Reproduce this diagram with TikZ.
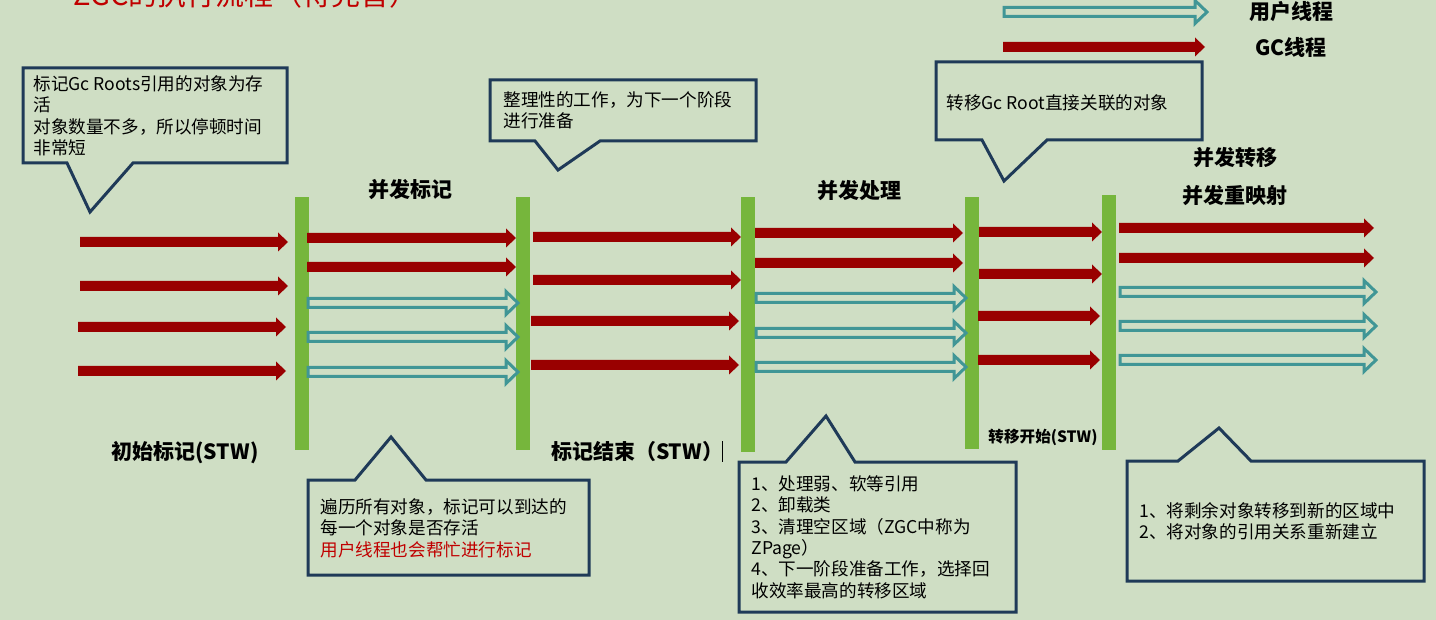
\documentclass[tikz,border=0pt]{standalone}
\usepackage{fontspec}
\setmainfont{Noto Sans CJK SC}
\usepackage{tikz}

\definecolor{bgcolor}{RGB}{207,222,196}
\definecolor{bargreen}{RGB}{118,182,60}
\definecolor{gcred}{RGB}{153,0,0}
\definecolor{userteal}{RGB}{64,150,150}
\definecolor{calloutblue}{RGB}{31,58,88}
\definecolor{tipred}{RGB}{192,0,0}

\tikzset{
  bar/.style={fill=bargreen},
  gcthread/.style={fill=gcred},
  userthread/.style={draw=userteal, line width=1.5pt, line join=miter},
  callout/.style={draw=calloutblue, line width=1.5pt, line join=miter},
  tiptext/.style={inner sep=0pt, align=left, font=\fontsize{8.8}{10.7}\selectfont},
  phase/.style={inner sep=0pt, font=\bfseries\fontsize{10.5}{12}\selectfont},
  heading/.style={inner sep=0pt, text=tipred, font=\fontsize{14.5}{16}\selectfont}
}

% red filled arrow: from x1 to x2 at height y
\newcommand{\gcarrow}[3]{%
  \fill[gcthread] (#1,#3-5) -- (#2-10,#3-5) -- (#2-10,#3-9.5) -- (#2,#3)
    -- (#2-10,#3+9.5) -- (#2-10,#3+5) -- (#1,#3+5) -- cycle;}
% teal hollow arrow
\newcommand{\userarrow}[3]{%
  \draw[userthread] (#1,#3-4.5) -- (#2-12,#3-4.5) -- (#2-12,#3-11.5) -- (#2,#3)
    -- (#2-12,#3+11.5) -- (#2-12,#3+4.5) -- (#1,#3+4.5) -- cycle;}
% box with pointer below: left top right bottom, pointer base p1 p2, tip
\newcommand{\calloutdown}[8]{%
  \draw[callout] (#1,#2) -- (#3,#2) -- (#3,#4) -- (#6,#4) -- (#7,#8)
    -- (#5,#4) -- (#1,#4) -- cycle;}
% box with pointer above
\newcommand{\calloutup}[8]{%
  \draw[callout] (#1,#2) -- (#5,#2) -- (#7,#8) -- (#6,#2) -- (#3,#2)
    -- (#3,#4) -- (#1,#4) -- cycle;}

\begin{document}
\begin{tikzpicture}[x=0.5pt, y=-0.5pt]
  \fill[bgcolor] (0,0) rectangle (1436,620);
  \clip (0,0) rectangle (1436,620);

  \node[heading, anchor=base west] (title) at (73,6) {ZGC的执行流程（待完善）};

  % legend
  \userarrow{1004}{1207}{12}
  \gcarrow{1003}{1205}{47}
  \node[phase] (userlbl) at (1291,12) {用户线程};
  \node[phase] (gclbl) at (1291,47) {GC线程};

  % pauses
  \fill[bar] (295,197) rectangle (309,450);
  \fill[bar] (516,197) rectangle (530,450);
  \fill[bar] (741,197) rectangle (755,452);
  \fill[bar] (965,197) rectangle (979,449);
  \fill[bar] (1102,195) rectangle (1116,450);

  % threads
  \gcarrow{80}{288}{242}
  \gcarrow{80}{288}{286}
  \gcarrow{78}{286}{327}
  \gcarrow{78}{286}{371}

  \gcarrow{307}{516}{238}
  \gcarrow{307}{516}{267}
  \userarrow{308}{518}{303}
  \userarrow{308}{518}{337}
  \userarrow{308}{518}{372}

  \gcarrow{533}{741}{237}
  \gcarrow{533}{741}{280}
  \gcarrow{531}{739}{321}
  \gcarrow{531}{739}{365}

  \gcarrow{755}{963}{233}
  \gcarrow{755}{963}{263}
  \userarrow{756}{966}{298}
  \userarrow{756}{966}{333}
  \userarrow{756}{966}{367}

  \gcarrow{979}{1102}{232}
  \gcarrow{979}{1102}{274}
  \gcarrow{978}{1100}{316}
  \gcarrow{978}{1100}{360}

  \gcarrow{1119}{1374}{228}
  \gcarrow{1119}{1374}{258}
  \userarrow{1120}{1376}{292}
  \userarrow{1120}{1376}{326}
  \userarrow{1120}{1376}{360}

  % phase names
  \node[phase] (mark) at (410,190) {并发标记};
  \node[phase] (proc) at (859,191) {并发处理};
  \node[phase] (reloc) at (1235,158) {并发转移};
  \node[phase] (remap) at (1235,196) {并发重映射};
  \node[phase] (initmark) at (185,453) {初始标记(STW)};
  \node[phase] (markend) at (637,452) {标记结束（STW）};
  \draw[line width=0.5pt] (722,441) -- (722,462);
  \node[phase, font=\bfseries\fontsize{7.8}{9}\selectfont] (relocstart) at (1043,437) {转移开始(STW)};

  % notes
  \calloutdown{23}{68}{287}{163}{67}{133}{90}{212}
  \node[tiptext, anchor=north west] (note1) at (33,75)
    {标记Gc Roots引用的对象为存\\活\\对象数量不多，所以停顿时间\\非常短};

  \calloutdown{490}{80}{756}{141}{535}{600}{558}{170}
  \node[tiptext, anchor=north west] (note2) at (503,91)
    {整理性的工作，为下一个阶段\\进行准备};

  \calloutdown{936}{62}{1202}{140}{982}{1047}{1004}{181}
  \node[tiptext, anchor=west] (note3) at (946,103) {转移Gc Root直接关联的对象};

  \calloutup{308}{480}{589}{575}{355}{426}{391}{437}
  \node[tiptext, anchor=north west] (note4) at (320,498)
    {遍历所有对象，标记可以到达的\\每一个对象是否存活\\{\color{tipred}用户线程也会帮忙进行标记}};

  \calloutup{739}{462}{1016}{612}{786}{855}{826}{416}
  \node[tiptext, anchor=north west] (note5) at (751,475)
    {1、处理弱、软等引用\\2、卸载类\\3、清理空区域（ZGC中称为\\ZPage）\\4、下一阶段准备工作，选择回\\收效率最高的转移区域};

  \calloutup{1127}{461}{1424}{581}{1178}{1251}{1219}{428}
  \node[tiptext, anchor=north west] (note6) at (1139,502)
    {1、将剩余对象转移到新的区域中\\2、将对象的引用关系重新建立};
\end{tikzpicture}
\end{document}
